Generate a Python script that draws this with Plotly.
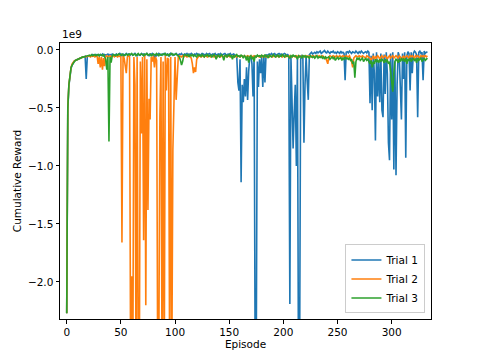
import plotly.graph_objects as go

# cumulative reward per episode, in units of 1e9
trial1 = [
    -2.27, -0.52, -0.31, -0.21, -0.16, -0.13, -0.11, -0.10, -0.09, -0.085,
    -0.08, -0.075, -0.07, -0.07, -0.065, -0.06, -0.06, -0.055, -0.25, -0.06,
    -0.05, -0.05, -0.045, -0.05, -0.04, -0.045, -0.05, -0.04, -0.045, -0.04,
    -0.05, -0.04, -0.045, -0.035, -0.05, -0.04, -0.045, -0.04, -0.035, -0.05,
    -0.04, -0.045, -0.035, -0.04, -0.05, -0.04, -0.035, -0.045, -0.04, -0.03,
    -0.04, -0.05, -0.035, -0.04, -0.045, -0.03, -0.04, -0.035, -0.05, -0.04,
    -0.035, -0.045, -0.04, -0.03, -0.04, -0.05, -0.035, -0.04, -0.045, -0.03,
    -0.04, -0.035, -0.045, -0.04, -0.03, -0.04, -0.05, -0.035, -0.04, -0.03,
    -0.045, -0.08, -0.035, -0.05, -0.04, -0.03, -0.04, -0.045, -0.035, -0.04,
    -0.03, -0.045, -0.04, -0.035, -0.04, -0.05, -0.03, -0.04, -0.035, -0.045,
    -0.04, -0.03, -0.04, -0.045, -0.035, -0.04, -0.03, -0.045, -0.04, -0.035,
    -0.04, -0.03, -0.045, -0.035, -0.04, -0.03, -0.04, -0.045, -0.035, -0.04,
    -0.03, -0.04, -0.035, -0.045, -0.04, -0.03, -0.035, -0.04, -0.045, -0.03,
    -0.04, -0.035, -0.03, -0.045, -0.04, -0.035, -0.04, -0.03, -0.045, -0.04,
    -0.035, -0.04, -0.03, -0.045, -0.04, -0.035, -0.03, -0.04, -0.045, -0.035,
    -0.04, -0.03, -0.045, -0.04, -0.035, -0.04, -0.05, -0.06, -0.28, -0.35,
    -0.08, -1.14, -0.30, -0.45, -0.25, -0.40, -0.15, -0.43, -0.18, -0.06,
    -0.05, -0.12, -0.40, -0.06, -2.80, -2.60, -0.10, -0.32, -0.08, -0.20,
    -0.06, -0.32, -0.05, -0.28, -0.04, -0.05, -0.04, -0.035, -0.045, -0.03,
    -0.04, -0.035, -0.03, -0.045, -0.04, -0.035, -0.03, -0.04, -0.035, -0.045,
    -0.04, -0.03, -0.035, -0.045, -0.04, -0.05, -2.19, -0.06, -0.43, -0.85,
    -0.55, -0.30, -1.00, -0.06, -2.90, -2.70, -0.08, -0.05, -0.06, -0.80,
    -0.30, -0.05, -0.27, -0.43, -0.04, -0.03, -0.02, -0.035, -0.025, -0.02,
    -0.03, -0.015, -0.025, -0.02, -0.01, -0.03, -0.02, -0.015, -0.005, -0.02,
    -0.025, -0.01, -0.02, -0.03, -0.015, -0.02, -0.01, -0.025, -0.02, -0.03,
    -0.015, -0.02, -0.03, -0.01, -0.025, -0.02, -0.03, -0.26, -0.02, -0.015,
    -0.025, -0.01, -0.02, -0.03, -0.015, -0.02, -0.025, -0.01, -0.02, -0.03,
    -0.015, -0.025, -0.01, -0.02, -0.03, -0.02, -0.015, -0.025, -0.01, -0.02,
    -0.46, -0.05, -0.52, -0.03, -0.20, -0.78, -0.02, -0.40, -0.10, -0.45,
    -0.03, -0.52, -0.58, -0.04, -0.38, -0.02, -0.20, -0.80, -0.95, -0.03,
    -0.60, -0.02, -1.03, -0.10, -1.08, -0.30, -0.02, -0.05, -0.42, -0.60,
    -0.03, -0.25, -0.02, -0.93, -0.05, -0.015, -0.03, -0.35, -0.02, -0.20,
    -0.03, -0.01, -0.02, -0.04, -0.58, -0.02, -0.01, -0.03, -0.02, -0.26,
    -0.01, -0.03, -0.02, -0.015,
]

trial2 = [
    -2.27, -0.50, -0.30, -0.20, -0.15, -0.12, -0.105, -0.095, -0.09, -0.085,
    -0.08, -0.075, -0.07, -0.065, -0.065, -0.06, -0.06, -0.055, -0.06, -0.055,
    -0.05, -0.055, -0.06, -0.05, -0.055, -0.05, -0.06, -0.055, -0.05, -0.12,
    -0.06, -0.15, -0.06, -0.17, -0.07, -0.14, -0.06, -0.05, -0.06, -0.055,
    -0.05, -0.06, -0.055, -0.05, -0.06, -0.05, -0.055, -0.06, -0.05, -0.055,
    -0.06, -1.66, -0.05, -0.07, -0.12, -0.20, -0.06, -0.05, -0.06, -2.80,
    -1.95, -2.90, -0.06, -0.30, -2.80, -0.06, -2.70, -2.90, -0.10, -0.72,
    -0.06, -1.64, -0.05, -2.20, -0.08, -1.38, -0.42, -0.60, -0.06, -0.10,
    -0.05, -0.15, -0.06, -0.09, -2.80, -2.70, -0.58, -0.06, -2.80, -0.10,
    -2.90, -0.05, -0.35, -0.07, -0.08, -2.70, -0.06, -2.80, -0.86, -0.38,
    -0.06, -0.43, -0.20, -0.06, -0.05, -0.055, -0.06, -0.05, -0.06, -0.055,
    -0.05, -0.06, -0.055, -0.05, -0.06, -0.07, -0.12, -0.20, -0.15, -0.19,
    -0.08, -0.06, -0.05, -0.055, -0.06, -0.05, -0.055, -0.06, -0.05, -0.055,
    -0.06, -0.05, -0.055, -0.06, -0.05, -0.055, -0.06, -0.05, -0.055, -0.06,
    -0.05, -0.055, -0.06, -0.05, -0.055, -0.06, -0.05, -0.055, -0.06, -0.05,
    -0.055, -0.06, -0.05, -0.055, -0.06, -0.05, -0.055, -0.06, -0.05, -0.055,
    -0.06, -0.05, -0.055, -0.06, -0.05, -0.055, -0.06, -0.05, -0.055, -0.06,
    -0.05, -0.055, -0.06, -0.05, -0.055, -0.06, -0.05, -0.055, -0.06, -0.05,
    -0.055, -0.06, -0.05, -0.055, -0.06, -0.05, -0.055, -0.06, -0.05, -0.055,
    -0.06, -0.05, -0.055, -0.06, -0.05, -0.055, -0.06, -0.05, -0.055, -0.06,
    -0.05, -0.055, -0.06, -0.05, -0.055, -0.06, -0.05, -0.055, -0.06, -0.05,
    -0.055, -0.06, -0.05, -0.055, -0.06, -0.05, -0.055, -0.06, -0.05, -0.055,
    -0.06, -0.05, -0.055, -0.06, -0.05, -0.055, -0.06, -0.05, -0.055, -0.06,
    -0.05, -0.055, -0.06, -0.05, -0.055, -0.06, -0.05, -0.055, -0.06, -0.07,
    -0.09, -0.12, -0.06, -0.05, -0.055, -0.06, -0.05, -0.055, -0.06, -0.05,
    -0.055, -0.06, -0.05, -0.055, -0.06, -0.05, -0.055, -0.06, -0.05, -0.055,
    -0.06, -0.05, -0.07, -0.10, -0.15, -0.07, -0.06, -0.05, -0.055, -0.06,
    -0.05, -0.055, -0.06, -0.05, -0.055, -0.06, -0.07, -0.05, -0.055, -0.06,
    -0.07, -0.09, -0.06, -0.05, -0.08, -0.06, -0.07, -0.05, -0.06, -0.08,
    -0.06, -0.05, -0.07, -0.06, -0.05, -0.06, -0.08, -0.06, -0.05, -0.07,
    -0.06, -0.05, -0.07, -0.06, -0.05, -0.06, -0.07, -0.05, -0.06, -0.08,
    -0.06, -0.05, -0.07, -0.06, -0.05, -0.06, -0.07, -0.05, -0.06, -0.05,
    -0.06, -0.07, -0.05, -0.06, -0.05, -0.06, -0.07, -0.05, -0.06, -0.05,
    -0.06, -0.05, -0.06, -0.05,
]

trial3 = [
    -2.27, -0.50, -0.30, -0.20, -0.15, -0.13, -0.11, -0.10, -0.09, -0.085,
    -0.08, -0.075, -0.07, -0.07, -0.065, -0.06, -0.06, -0.055, -0.055, -0.05,
    -0.05, -0.045, -0.05, -0.04, -0.05, -0.045, -0.04, -0.05, -0.045, -0.04,
    -0.05, -0.04, -0.045, -0.05, -0.04, -0.06, -0.08, -0.17, -0.06, -0.79,
    -0.06, -0.11, -0.05, -0.04, -0.045, -0.05, -0.04, -0.045, -0.035, -0.04,
    -0.045, -0.035, -0.04, -0.05, -0.04, -0.035, -0.045, -0.04, -0.035, -0.04,
    -0.03, -0.045, -0.04, -0.035, -0.05, -0.04, -0.03, -0.045, -0.04, -0.035,
    -0.04, -0.05, -0.035, -0.04, -0.03, -0.045, -0.04, -0.035, -0.05, -0.04,
    -0.035, -0.04, -0.045, -0.03, -0.04, -0.05, -0.035, -0.04, -0.045, -0.035,
    -0.04, -0.03, -0.045, -0.04, -0.05, -0.035, -0.04, -0.03, -0.045, -0.04,
    -0.04, -0.035, -0.045, -0.05, -0.06, -0.09, -0.13, -0.10, -0.05, -0.04,
    -0.045, -0.05, -0.04, -0.06, -0.045, -0.05, -0.04, -0.055, -0.045, -0.05,
    -0.06, -0.04, -0.05, -0.045, -0.055, -0.04, -0.05, -0.06, -0.045, -0.05,
    -0.04, -0.055, -0.05, -0.045, -0.06, -0.05, -0.04, -0.055, -0.08, -0.05,
    -0.045, -0.06, -0.05, -0.04, -0.055, -0.09, -0.05, -0.045, -0.06, -0.05,
    -0.04, -0.055, -0.05, -0.08, -0.045, -0.06, -0.05, -0.04, -0.055, -0.05,
    -0.06, -0.045, -0.05, -0.07, -0.05, -0.06, -0.09, -0.05, -0.11, -0.06,
    -0.05, -0.08, -0.06, -0.10, -0.05, -0.06, -0.045, -0.055, -0.05, -0.06,
    -0.045, -0.05, -0.06, -0.04, -0.055, -0.05, -0.07, -0.045, -0.05, -0.06,
    -0.05, -0.04, -0.055, -0.06, -0.05, -0.045, -0.06, -0.05, -0.055, -0.04,
    -0.05, -0.06, -0.045, -0.055, -0.05, -0.06, -0.07, -0.05, -0.06, -0.045,
    -0.055, -0.05, -0.06, -0.08, -0.05, -0.06, -0.055, -0.07, -0.05, -0.06,
    -0.05, -0.065, -0.055, -0.06, -0.07, -0.05, -0.06, -0.065, -0.055, -0.07,
    -0.06, -0.05, -0.07, -0.06, -0.065, -0.055, -0.07, -0.06, -0.08, -0.06,
    -0.07, -0.065, -0.06, -0.08, -0.07, -0.06, -0.075, -0.065, -0.09, -0.07,
    -0.06, -0.08, -0.07, -0.065, -0.09, -0.07, -0.08, -0.06, -0.075, -0.07,
    -0.08, -0.07, -0.09, -0.08, -0.12, -0.10, -0.24, -0.10, -0.07, -0.08,
    -0.07, -0.09, -0.08, -0.07, -0.10, -0.08, -0.07, -0.09, -0.08, -0.10,
    -0.12, -0.09, -0.15, -0.10, -0.12, -0.08, -0.10, -0.09, -0.11, -0.08,
    -0.10, -0.08, -0.09, -0.11, -0.08, -0.10, -0.09, -0.12, -0.10, -0.18,
    -0.25, -0.36, -0.20, -0.10, -0.08, -0.09, -0.11, -0.08, -0.10, -0.07,
    -0.09, -0.08, -0.10, -0.07, -0.12, -0.08, -0.09, -0.07, -0.10, -0.08,
    -0.07, -0.09, -0.08, -0.11, -0.07, -0.09, -0.08, -0.07, -0.10, -0.08,
    -0.07, -0.09, -0.08, -0.07,
]

names = ["Trial 1", "Trial 2", "Trial 3"]
colors = ["#1f77b4", "#ff7f0e", "#2ca02c"]
y_ticks = [0.0, -0.5, -1.0, -1.5, -2.0]
x_ticks = [0, 50, 100, 150, 200, 250, 300]

FONT = "DejaVu Sans"

fig = go.Figure()
for name, color, values in zip(names, colors, [trial1, trial2, trial3]):
    fig.add_trace(go.Scatter(
        x=list(range(len(values))), y=values, name=name, mode="lines",
        line=dict(color=color, width=1.6),
    ))

axis_style = dict(
    showline=True, mirror=True, linecolor="black", linewidth=1,
    ticks="outside", ticklen=3.5, tickwidth=1, tickcolor="black",
    showgrid=False, zeroline=False, automargin=False,
    tickfont=dict(family=FONT, size=10.5, color="black"),
)

# the page body adds an 8px offset, so the figure is a little smaller
fig.update_layout(
    width=471, height=351,
    margin=dict(l=52, r=48, t=35, b=40),
    plot_bgcolor="white", paper_bgcolor="white",
    font=dict(family=FONT, size=10.5, color="black"),
    legend=dict(
        x=0.985, y=0.02, xanchor="right", yanchor="bottom",
        bgcolor="rgba(255,255,255,0.8)", bordercolor="#cccccc", borderwidth=1,
        font=dict(family=FONT, size=10.5), itemwidth=30,
        tracegroupgap=0,
    ),
    annotations=[dict(
        text="1e9", xref="paper", yref="paper", x=0, y=1.005,
        xanchor="left", yanchor="bottom", showarrow=False,
        font=dict(family=FONT, size=10.5, color="black"),
    )],
)
fig.update_xaxes(
    range=[-6.2, 336.3], tickvals=x_ticks,
    title=dict(text="Episode", standoff=2, font=dict(family=FONT, size=10.5)),
    **axis_style,
)
fig.update_yaxes(
    range=[-2.319, 0.06], tickvals=y_ticks,
    ticktext=[f"{v:.1f}".replace("-", "\u2212") for v in y_ticks],
    title=dict(text="Cumulative Reward", standoff=4, font=dict(family=FONT, size=10.5)),
    **axis_style,
)

fig.write_html("out.html")
